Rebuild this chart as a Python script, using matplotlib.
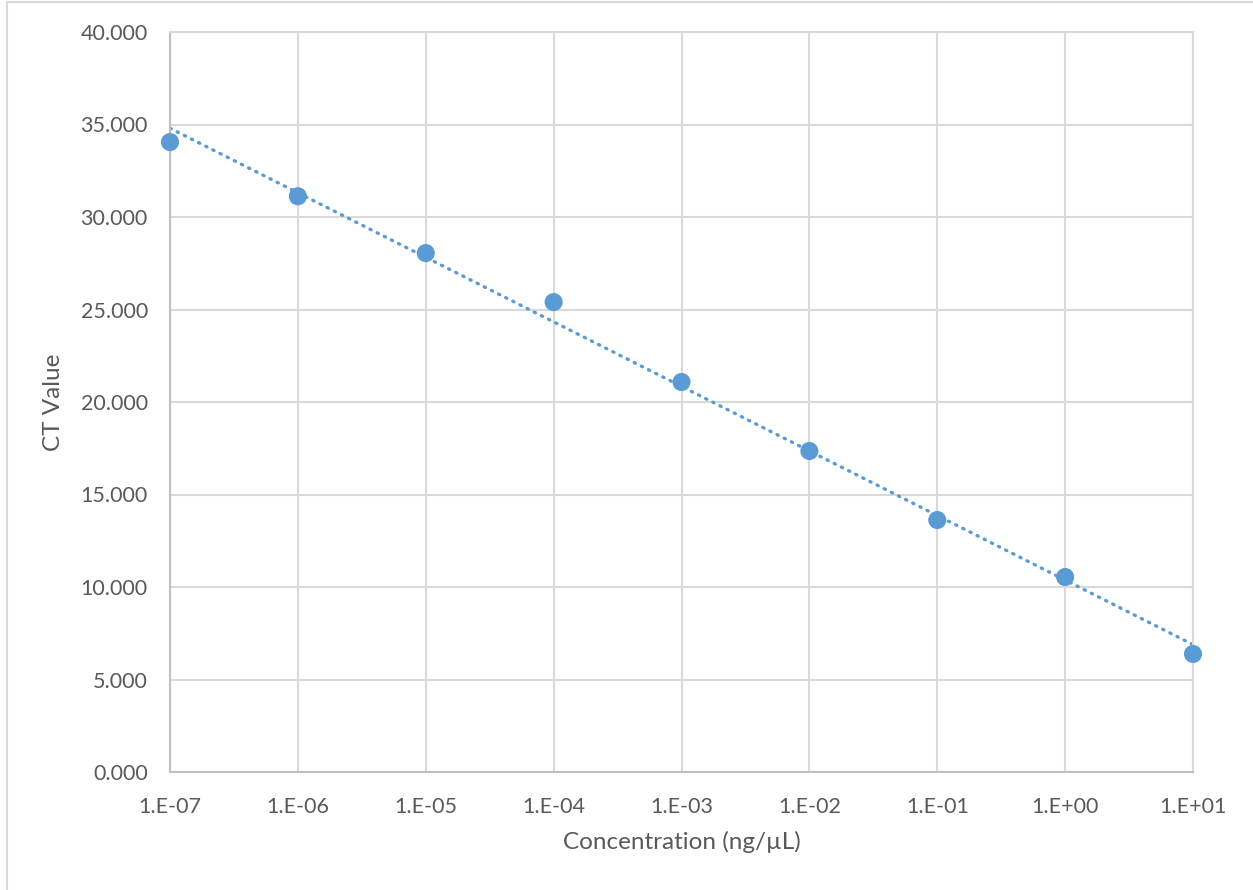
import numpy as np
import matplotlib
matplotlib.use("Agg")
import matplotlib.pyplot as plt
from matplotlib.patches import Rectangle

conc = [1e-7, 1e-6, 1e-5, 1e-4, 1e-3, 1e-2, 1e-1, 1e0, 1e1]
ct = [34.05, 31.12, 28.05, 25.40, 21.08, 17.35, 13.62, 10.54, 6.38]
xtick_labels = ["1.E-07", "1.E-06", "1.E-05", "1.E-04", "1.E-03",
                "1.E-02", "1.E-01", "1.E+00", "1.E+01"]

plt.rcParams["font.family"] = ["Lato", "DejaVu Sans"]
TXT = "#595959"
BLUE = "#5b9bd5"
GRID = "#d9d9d9"

W, H = 1253, 890
fig = plt.figure(figsize=(W / 100, H / 100), dpi=100)
ax = fig.add_axes([170 / W, 1 - 772 / H, (1193 - 170) / W, (772 - 32) / H])

# outer chart border (cropped on right/bottom)
fig.patches.append(Rectangle((7 / W, -0.1), 1.2, 1 - 2 / H + 0.1,
                             transform=fig.transFigure, fill=False,
                             edgecolor="#d9d9d9", lw=1.5))

# log trendline (Excel style)
lx = np.log10(conc)
a, b = np.polyfit(lx, ct, 1)
xs = np.linspace(lx[0], lx[-1], 50)
ax.plot(10 ** xs, a * xs + b, color=BLUE, lw=2.4, linestyle=(0, (0.4, 2.0)),
        dash_capstyle="round", zorder=2)
ax.scatter(conc, ct, s=170, color=BLUE, zorder=3, edgecolors="none",
           clip_on=False)

ax.set_xscale("log")
ax.set_xlim(1e-7, 1e1)
ax.set_ylim(0, 40)
ax.set_xticks(conc)
ax.set_xticklabels(xtick_labels)
ax.xaxis.set_minor_locator(matplotlib.ticker.NullLocator())
ax.set_yticks(np.arange(0, 40.1, 5))
ax.set_yticklabels([f"{v:.3f}" for v in np.arange(0, 40.1, 5)])
ax.grid(True, color=GRID, lw=1.5)
ax.set_axisbelow(True)
for s in ax.spines.values():
    s.set_color(GRID)
    s.set_linewidth(1.5)
ax.spines["left"].set_color("#bfbfbf")
ax.spines["bottom"].set_color("#bfbfbf")
ax.tick_params(length=0, labelsize=15.5, labelcolor=TXT)
ax.tick_params(axis="x", pad=18)
ax.tick_params(axis="y", pad=16)
ax.set_xlabel("Concentration (ng/µL)", fontsize=17.5, color=TXT, labelpad=10)
ax.set_ylabel("CT Value", fontsize=17.5, color=TXT, labelpad=12)

fig.savefig("out.png", dpi=100)
